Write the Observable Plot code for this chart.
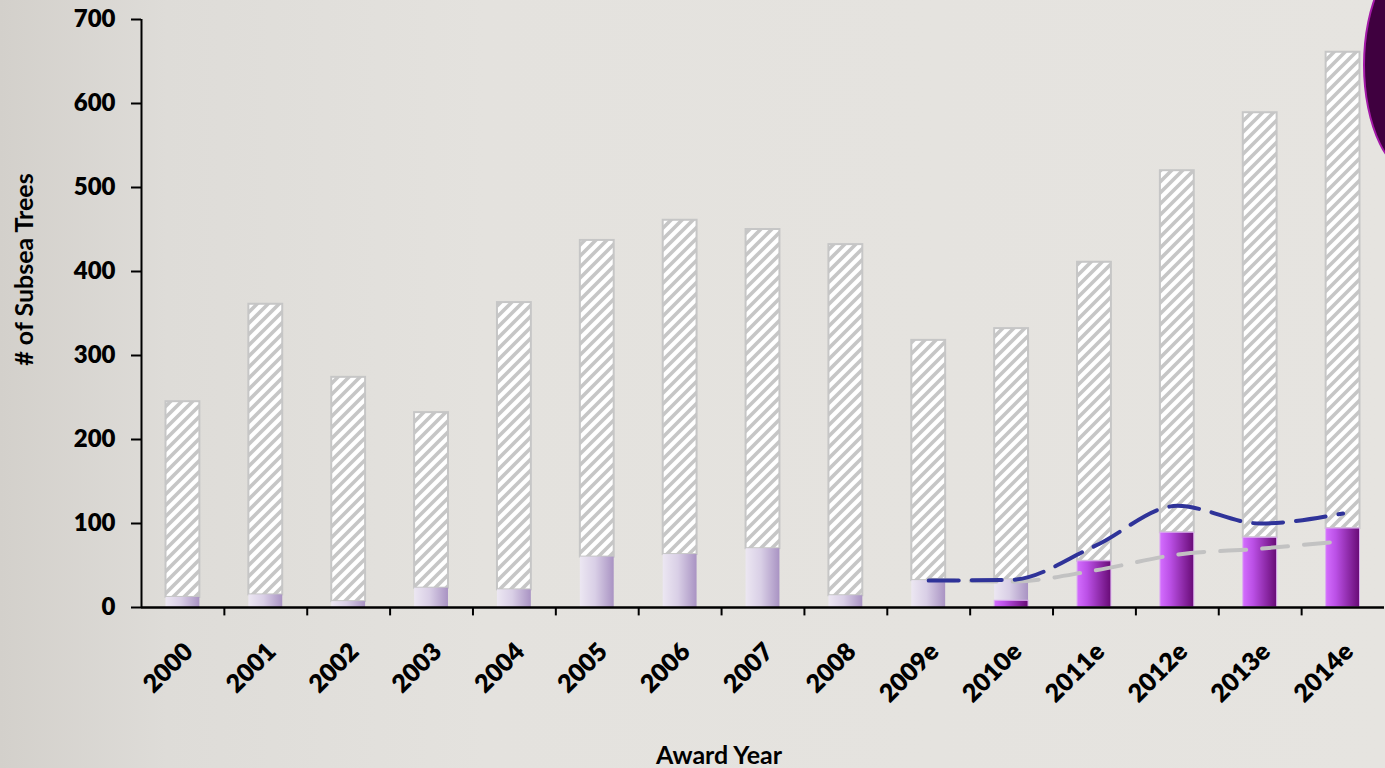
<!DOCTYPE html>
<html>
<head>
<meta charset="utf-8">
<script src="https://cdn.jsdelivr.net/npm/d3@7"></script>
<script src="https://cdn.jsdelivr.net/npm/@observablehq/plot@0.6"></script>
<style>
  html, body { margin: 0; padding: 0; width: 1385px; height: 768px; overflow: hidden; }
  body { background: linear-gradient(to right, #d3d0cb 0%, #dedcd8 12%, #e4e2de 35%, #e6e4e0 100%); position: relative; font-family: Lato, "Open Sans", sans-serif; }
  #chart { position: absolute; left: 0; top: 0; }
  #blob { position: absolute; left: 1363px; top: -47px; width: 110px; height: 224px; border-radius: 50%; background: #3f003f; border: 2px solid #a41aa8; box-sizing: border-box; }
</style>
</head>
<body>
<div id="chart"></div>
<div id="blob"></div>
<script>
// ---- data ----
const years = ["2000","2001","2002","2003","2004","2005","2006","2007","2008","2009e","2010e","2011e","2012e","2013e","2014e"];
const totals = [245, 361, 274, 232, 363, 437, 461, 450, 432, 318, 332, 411, 520, 589, 661];
const brightVals = [0, 0, 0, 0, 0, 0, 0, 0, 0, 0, 8, 55, 89, 83, 94];
const lightVals = [12, 15, 7, 23, 21, 60, 63, 70, 14, 32, 25, 0, 0, 0, 0];
const lineYears = ["2009e","2010e","2011e","2012e","2013e","2014e"];
const blueLine = [32, 33, 73, 121, 100, 112];
const greyLine = [33, 31, 44, 63, 70, 79];
const yTicks = [0, 100, 200, 300, 400, 500, 600, 700];
const yLabel = "# of Subsea Trees";
const xLabel = "Award Year";

// ---- derived tables ----
const rows = years.map((y, i) => ({
  year: y,
  b0: 0, b1: brightVals[i],
  l0: brightVals[i], l1: brightVals[i] + lightVals[i],
  h0: brightVals[i] + lightVals[i], h1: totals[i]
}));
const blueData = lineYears.map((y, i) => ({year: y, v: blueLine[i]}));
const greyData = lineYears.map((y, i) => ({year: y, v: greyLine[i]}));

const W = 1385, H = 768, ML = 141, MR = 1, MT = 19, MB = 161;
const step = (W - ML - MR) / years.length;
const inset = 24.5;

const defs = () => {
  const ns = "http://www.w3.org/2000/svg";
  const g = document.createElementNS(ns, "defs");
  g.innerHTML = `
    <linearGradient id="gLight" x1="0" y1="0" x2="1" y2="0">
      <stop offset="0" stop-color="#ece7f2"/>
      <stop offset="0.45" stop-color="#d9cfe6"/>
      <stop offset="1" stop-color="#a993c3"/>
    </linearGradient>
    <linearGradient id="gBright" x1="0" y1="0" x2="1" y2="0">
      <stop offset="0" stop-color="#d46eff"/>
      <stop offset="0.3" stop-color="#bb50e6"/>
      <stop offset="1" stop-color="#680b76"/>
    </linearGradient>
    <pattern id="hatch" patternUnits="userSpaceOnUse" width="11" height="11">
      <rect width="11" height="11" fill="#ffffff"/>
      <path d="M0,11 L11,0 M-3,3 L3,-3 M8,14 L14,8" stroke="#c6c6c6" stroke-width="3.6"/>
    </pattern>`;
  return g;
};

const plot = Plot.plot({
  width: W, height: H,
  marginLeft: ML, marginRight: MR, marginTop: MT, marginBottom: MB,
  style: {fontFamily: "Lato, 'Open Sans', sans-serif", fontWeight: "bold", fontSize: "24px", color: "#000", background: "transparent", overflow: "visible"},
  x: {domain: years, padding: 0, round: false, label: null},
  y: {domain: [0, 700], label: null},
  marks: [
    defs,
    Plot.barY(rows, {x: "year", y1: "h0", y2: "h1", fill: "url(#hatch)", stroke: "#c6c6c6", strokeWidth: 2, insetLeft: inset, insetRight: inset}),
    Plot.barY(rows, {x: "year", y1: "l0", y2: "l1", fill: "url(#gLight)", insetLeft: inset, insetRight: inset}),
    Plot.barY(rows.filter(d => d.b1 > 0), {x: "year", y1: "b0", y2: "b1", fill: "url(#gBright)", stroke: "#dcaef0", strokeWidth: 1, insetLeft: inset, insetRight: inset}),
    Plot.line(greyData, {x: "year", y: "v", stroke: "#c2c2c2", strokeWidth: 4, strokeDasharray: "26 16", curve: "monotone-x"}),
    Plot.line(blueData, {x: "year", y: "v", stroke: "#2f3399", strokeWidth: 4, strokeDasharray: "30 13", curve: "monotone-x"}),
    Plot.ruleY([0], {stroke: "#000", strokeWidth: 2.5}),
    Plot.ruleX([years[0]], {stroke: "#000", strokeWidth: 2, dx: -step / 2, y1: 0, y2: 700}),
    Plot.ruleX(years.slice(1), {stroke: "#000", strokeWidth: 2, dx: -step / 2, y1: 0, y2: -10}),
    Plot.axisY({ticks: yTicks, tickSize: 10, tickPadding: 16, tickFormat: d => String(d), strokeWidth: 2, fontWeight: 800, label: null}),
    Plot.axisX({tickSize: 0, tickRotate: -45, tickPadding: 40, dx: 6, fontSize: 25, fontWeight: 800, label: null}),
    Plot.text([yLabel], {frameAnchor: "left", textAnchor: "middle", rotate: -90, dx: -117, dy: -44, fontSize: 25, fontWeight: "bold", fill: "#000"}),
    Plot.text([xLabel], {frameAnchor: "bottom", dx: -44, dy: 156, fontSize: 25, fontWeight: "bold", fill: "#000"})
  ]
});
document.getElementById("chart").appendChild(plot);
</script>
</body>
</html>
